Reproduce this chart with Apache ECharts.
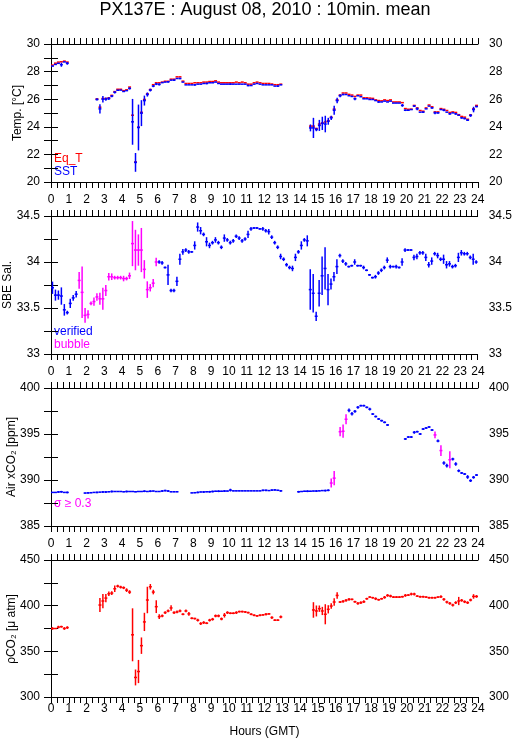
<!DOCTYPE html>
<html lang="en">
<head>
<meta charset="UTF-8">
<title>PX137E 10min mean</title>
<script src="https://cdn.jsdelivr.net/npm/echarts@6/dist/echarts.min.js"></script>
<style>
  html, body { margin: 0; padding: 0; background: #fff; }
  #chart { width: 515px; height: 739px; }
</style>
</head>
<body>
<div id="chart"></div>
<script>
// 10-minute slots, 6 per hour, one row per hour (0..23)
var slotHours = 1 / 6;

var eqT = [
  28.47, 28.61, 28.69, 28.71, 28.76, 28.69,
  null, null, null, null, null, null,
  null, null, null, 26.02, 25.42, 26.05,
  26.05, 26.10, 26.28, 26.55, 26.72, 26.72,
  26.62, 26.68, 26.88, 24.84, 21.45, 23.97,
  25.05, 25.98, 26.39, 26.70, 27.05, 27.19,
  27.19, 27.24, 27.30, 27.30, 27.45, 27.45,
  27.62, 27.62, 27.31, 27.14, 27.14, 27.14,
  27.19, 27.19, 27.19, 27.24, 27.24, 27.28,
  27.28, 27.33, 27.24, 27.19, 27.19, 27.19,
  27.19, 27.19, 27.24, 27.19, 27.24, 27.19,
  27.09, 27.09, 27.19, 27.24, 27.19, 27.14,
  27.14, 27.14, 27.10, 27.05, 27.05, 27.09,
  null, null, null, null, null, null,
  null, null, null, 24.05, 24.05, 23.88,
  24.20, 24.28, 24.35, 24.45, 24.70, 25.28,
  25.95, 26.30, 26.45, 26.45, 26.35, 26.30,
  26.20, 26.30, 26.30, 26.10, 26.10, 26.08,
  26.06, 25.95, 25.90, 25.88, 25.95, 25.90,
  25.95, 25.80, 25.80, 25.80, 25.75, 25.32,
  25.27, 25.28, 25.55, 25.37, 25.18, 25.13,
  25.37, 25.58, 25.45, 25.08, 25.08, 25.32,
  25.27, 25.18, 25.04, 25.08, 25.04, 24.88,
  24.75, 24.70, 24.55, 24.86, 25.30, 25.55
];

var sst = [
  28.40, 28.52, 28.60, 28.50, 28.70, 28.60,
  null, null, null, null, null, null,
  null, null, null, 25.98, 25.30, 26.00,
  26.00, 26.05, 26.22, 26.50, 26.65, 26.66,
  26.56, 26.62, 26.78, 24.36, 21.42, 23.95,
  24.99, 25.90, 26.34, 26.66, 26.95, 27.10,
  27.07, 27.20, 27.24, 27.26, 27.38, 27.38,
  27.50, 27.50, 27.24, 27.04, 27.04, 27.04,
  27.04, 27.09, 27.09, 27.14, 27.14, 27.19,
  27.19, 27.24, 27.14, 27.09, 27.09, 27.09,
  27.09, 27.09, 27.09, 27.09, 27.09, 27.09,
  26.99, 26.99, 27.09, 27.14, 27.09, 27.04,
  27.04, 27.04, 27.04, 26.95, 26.95, 27.04,
  null, null, null, null, null, null,
  null, null, null, 23.92, 23.92, 23.80,
  24.10, 24.25, 24.20, 24.40, 24.65, 25.20,
  25.90, 26.25, 26.34, 26.34, 26.25, 26.20,
  26.03, 26.25, 26.18, 26.03, 26.03, 25.98,
  25.98, 25.90, 25.80, 25.80, 25.86, 25.80,
  25.86, 25.72, 25.72, 25.72, 25.55, 25.20,
  25.20, 25.25, 25.50, 25.30, 25.06, 25.06,
  25.30, 25.50, 25.37, 25.01, 25.01, 25.25,
  25.20, 25.06, 24.94, 25.01, 24.94, 24.84,
  24.65, 24.60, 24.48, 24.82, 25.25, 25.47
];

var sstSd = [
  0, 0, 0, 0.15, 0, 0.1,
  0, 0, 0, 0, 0, 0,
  0, 0, 0, 0.08, 0.34, 0.24,
  0.12, 0.1, 0.08, 0.08, 0, 0,
  0, 0, 0.08, 1.66, 0.68, 1.66,
  0.94, 0.36, 0.15, 0.1, 0.08, 0.08,
  0.08, 0, 0, 0.06, 0, 0.06,
  0, 0.06, 0, 0, 0, 0,
  0.06, 0, 0, 0, 0.06, 0,
  0, 0, 0, 0, 0, 0,
  0.06, 0, 0, 0, 0, 0,
  0.06, 0, 0, 0, 0, 0,
  0, 0, 0, 0, 0.06, 0,
  0, 0, 0, 0, 0, 0,
  0, 0, 0, 0.25, 0.73, 0.12,
  0.4, 0.48, 0.6, 0.25, 0.15, 0.33,
  0.2, 0.1, 0.06, 0, 0, 0,
  0.1, 0, 0, 0, 0, 0,
  0, 0, 0.06, 0, 0, 0,
  0, 0, 0, 0, 0.1, 0.06,
  0, 0, 0.06, 0.1, 0, 0.06,
  0, 0, 0.06, 0.1, 0.06, 0,
  0.08, 0, 0.06, 0, 0.06, 0,
  0.06, 0.06, 0.06, 0.1, 0.2, 0.06
];

var sal = [
  33.72, 33.64, 33.64, 33.63, 33.48, 33.45,
  33.55, 33.61, 33.65, 33.80, 33.67, 33.42,
  33.43, 33.55, 33.57, 33.62, 33.60, 33.60,
  33.69, 33.84, 33.84, 33.83, 33.83, 33.83,
  33.82, 33.82, 33.85, 34.20, 34.13, 34.13,
  34.13, 33.92, 33.70, 33.72, 33.77, 34.00,
  34.00, 33.99, 33.94, 33.86, 33.69, 33.69,
  33.79, 34.03, 34.11, 34.13, 34.11, 34.11,
  34.18, 34.38, 34.34, 34.30, 34.22, 34.18,
  34.21, 34.24, 34.21, 34.16, 34.26, 34.24,
  34.21, 34.23, 34.28, 34.26, 34.23, 34.25,
  34.30, 34.36, 34.37, 34.37, 34.36, 34.36,
  34.34, 34.33, 34.27, 34.21, 34.16, 34.06,
  34.03, 33.97, 33.94, 33.93, 34.05, 34.11,
  34.18, 34.24, 34.23, 33.70, 33.66, 33.41,
  33.66, 33.85, 33.93, 33.70, 33.76, 33.84,
  33.95, 34.07, 34.01, 33.98, 33.95, 33.96,
  34.00, 33.96, 33.96, 33.94, 33.91, 33.86,
  33.83, 33.84, 33.88, 33.91, 33.94, 34.02,
  33.95, 33.95, 33.95, 33.94, 34.00, 34.13,
  34.13, 34.13, 34.05, 34.06, 34.10, 34.10,
  34.05, 33.97, 34.01, 34.09, 34.07, 34.03,
  34.03, 33.97, 33.98, 33.95, 33.96, 34.05,
  34.10, 34.09, 34.09, 34.05, 34.03, 34.00
];

var salSd = [
  0.067, 0.06, 0.05, 0.094, 0.063, 0.02,
  0.05, 0.03, 0.036, 0.09, 0.28, 0.08,
  0.045, 0.02, 0.045, 0.04, 0.065, 0.12,
  0.06, 0.04, 0.036, 0.02, 0.02, 0.02,
  0.03, 0.02, 0.035, 0.245, 0.22, 0.17,
  0.24, 0.1, 0.09, 0.04, 0.045, 0.045,
  0.02, 0.02, 0.01, 0.11, 0.02, 0.02,
  0.05, 0.06, 0.03, 0.02, 0.02, 0.01,
  0.045, 0.05, 0.04, 0.02, 0.05, 0.03,
  0.02, 0.03, 0.02, 0.02, 0.04, 0.02,
  0.02, 0.02, 0.02, 0.02, 0.02, 0.02,
  0.04, 0.02, 0.01, 0.01, 0.01, 0.02,
  0.02, 0.03, 0.02, 0.02, 0.02, 0.03,
  0.02, 0.02, 0.02, 0.03, 0.04, 0.02,
  0.045, 0.02, 0.06, 0.22, 0.21, 0.05,
  0.145, 0.21, 0.23, 0.17, 0.06, 0.05,
  0.08, 0.02, 0.02, 0.02, 0.01, 0.01,
  0.03, 0.01, 0.01, 0.02, 0.01, 0.01,
  0.01, 0.02, 0.02, 0.02, 0.02, 0.03,
  0.02, 0.01, 0.02, 0.01, 0.04, 0.02,
  0.01, 0.01, 0.03, 0.03, 0.02, 0.02,
  0.04, 0.03, 0.04, 0.02, 0.03, 0.02,
  0.05, 0.04, 0.03, 0.02, 0.02, 0.05,
  0.03, 0.02, 0.02, 0.02, 0.06, 0.02
];

// v = verified, b = bubble
var salFlag = [
  'vvvvvv', 'vvvbbb', 'bbbbbb', 'bbbbbb', 'bbbbbb', 'bbbbbb',
  'vvvvvv', 'vvvvvv', 'vvvvvv', 'vvvvvv', 'vvvvvv', 'vvvvvv',
  'vvvvvv', 'vvvvvv', 'vvvvvv', 'vvvvvv', 'vvvvvv', 'vvvvvv',
  'vvvvvv', 'vvvvvv', 'vvvvvv', 'vvvvvv', 'vvvvvv', 'vvvvvv'
].join('');

var xco2 = [
  388.65, 388.65, 388.70, 388.72, 388.65, 388.65,
  null, null, null, null, null, 388.58,
  388.60, 388.62, 388.65, 388.65, 388.68, 388.70,
  388.70, 388.72, 388.75, 388.75, 388.75, 388.75,
  388.72, 388.75, 388.75, 388.75, 388.72, 388.75,
  388.75, 388.78, 388.75, 388.78, 388.80, 388.75,
  388.75, 388.80, 388.85, 388.80, 388.72, 388.72,
  388.72, null, null, null, null, 388.60,
  388.62, 388.65, 388.70, 388.70, 388.72, 388.72,
  388.75, 388.78, 388.78, 388.78, 388.80, 388.80,
  388.90, 388.82, 388.82, 388.82, 388.82, 388.82,
  388.82, 388.82, 388.82, 388.82, 388.82, 388.88,
  388.88, 388.85, 388.90, 388.92, 388.88, 388.82,
  null, null, null, null, null, 388.72,
  388.75, 388.78, 388.78, 388.78, 388.80, 388.80,
  388.82, 388.85, 388.85, 388.88, 389.67, 390.20,
  null, 395.25, 395.30, 396.60, 397.57, 397.20,
  397.46, 397.90, 398.08, 398.08, 397.90, 397.70,
  397.17, 396.90, 396.63, 396.45, 396.27, 395.98,
  null, null, null, null, null, 394.46,
  394.67, 394.67, 395.18, 395.25, 395.00, 395.54,
  395.65, 395.76, 395.43, 394.90, 394.24, 393.20,
  391.85, 391.56, 392.20, 392.28, 391.74, 391.00,
  390.76, 390.65, 390.33, 389.93, 390.29, 390.54
];

var xco2Sd = [
  0.05, 0.05, 0.1, 0.1, 0.05, 0.1,
  0, 0, 0, 0, 0, 0.05,
  0.1, 0.05, 0.05, 0.1, 0.05, 0.1,
  0.1, 0.05, 0.1, 0.05, 0.05, 0.05,
  0.05, 0.1, 0.05, 0.05, 0.05, 0.05,
  0.05, 0.1, 0.05, 0.1, 0.05, 0.05,
  0.05, 0.1, 0.1, 0.1, 0.05, 0.05,
  0.05, 0, 0, 0, 0, 0.05,
  0.05, 0.1, 0.05, 0.1, 0.05, 0.1,
  0.1, 0.05, 0.1, 0.05, 0.1, 0.05,
  0.15, 0.05, 0.05, 0.05, 0.05, 0.05,
  0.05, 0.05, 0.05, 0.05, 0.05, 0.1,
  0.1, 0.05, 0.1, 0.1, 0.05, 0.1,
  0, 0, 0, 0, 0, 0.1,
  0.05, 0.05, 0.1, 0.05, 0.05, 0.1,
  0.05, 0.05, 0.1, 0.1, 0.49, 0.78,
  0, 0.5, 0.72, 0.54, 0.2, 0.2,
  0.15, 0.15, 0.1, 0.1, 0.1, 0.15,
  0.1, 0.1, 0.1, 0.1, 0.1, 0.1,
  0, 0, 0, 0, 0, 0.1,
  0.1, 0.1, 0.15, 0.1, 0.1, 0.1,
  0.1, 0.1, 0.1, 0.36, 0.15, 0.58,
  0.2, 0.2, 0.92, 0.15, 0.2, 0.15,
  0.1, 0.1, 0.2, 0.15, 0.15, 0.1
];

// v = verified, s = sigma >= 0.3
var xco2Flag = [
  'vvvvvv', 'vvvvvv', 'vvvvvv', 'vvvvvv', 'vvvvvv', 'vvvvvv',
  'vvvvvv', 'vvvvvv', 'vvvvvv', 'vvvvvv', 'vvvvvv', 'vvvvvv',
  'vvvvvv', 'vvvvvv', 'vvvvvv', 'vvvvss', 'vsssvv', 'vvvvvv',
  'vvvvvv', 'vvvvvv', 'vvvvvv', 'vvvsvs', 'vvsvvv', 'vvvvvv'
].join('');

var pco2 = [
  375.0, 375.0, 376.5, 377.0, 375.0, 376.0,
  null, null, null, null, null, null,
  null, null, null, null, 400.7, 405.1,
  408.3, 413.0, 413.8, 418.5, 421.4, 420.3,
  419.6, 417.0, 414.9, 368.1, 321.4, 327.9,
  356.2, 382.2, 406.2, 420.7, 414.9, 398.9,
  388.0, 388.8, 392.4, 394.2, 397.5, 392.4,
  393.1, 394.2, 390.6, 394.2, 391.0, 386.2,
  385.9, 384.1, 380.4, 381.5, 380.8, 384.1,
  385.1, 388.8, 388.8, 385.5, 389.5, 392.4,
  391.7, 391.7, 392.4, 393.5, 393.5, 393.1,
  392.4, 390.6, 389.5, 388.8, 389.5, 389.9,
  390.6, 391.0, 387.0, 384.1, 384.1, 387.7,
  null, null, null, null, null, null,
  null, null, null, null, 395.3, 394.2,
  396.7, 394.2, 390.6, 396.0, 399.6, 404.0,
  411.2, 404.0, 404.7, 405.8, 406.9, 406.9,
  404.3, 402.5, 403.3, 404.3, 407.6, 409.4,
  408.7, 407.6, 406.5, 407.6, 409.1, 411.2,
  410.5, 409.4, 409.4, 409.4, 409.8, 411.2,
  411.6, 412.7, 412.7, 410.5, 409.8, 409.8,
  409.4, 408.7, 408.7, 408.7, 409.4, 409.8,
  406.9, 404.0, 402.5, 400.7, 403.3, 405.1,
  405.8, 404.3, 403.3, 406.2, 410.1, 410.1
];

var pco2Sd = [
  1.5, 0, 1.5, 1, 1.5, 1.5,
  0, 0, 0, 0, 0, 0,
  0, 0, 0, 0, 7.6, 7.8,
  4.5, 2.5, 2, 3.5, 1.5, 1.5,
  1.5, 2, 2, 29, 8.7, 12.7,
  9, 10, 14.5, 3, 2.5, 7,
  2.5, 1.5, 1.5, 1.5, 3, 1.5,
  1.5, 1.5, 1, 1.5, 2, 1,
  1, 1.5, 1.5, 1.5, 1, 1.5,
  1.5, 1.5, 1.5, 1.5, 2.5, 1.5,
  1, 1, 1.5, 1, 1, 1,
  1, 1, 1, 1, 1, 1,
  1.5, 1, 1.5, 1, 1, 1.5,
  0, 0, 0, 0, 0, 0,
  0, 0, 0, 0, 8.5, 6,
  3.5, 4.5, 11, 4.5, 3, 4,
  3.5, 1, 1.5, 1.5, 1.5, 1,
  1, 1.5, 1.5, 1.5, 1, 1,
  1, 1.5, 1, 1, 1.5, 1.5,
  1.5, 1, 1, 1, 1, 1.5,
  1, 1.5, 1.5, 1, 1, 1,
  1, 1, 1, 1, 1, 1.5,
  1.5, 1.5, 1.5, 1.5, 1.5, 4.5,
  1.5, 1.5, 1.5, 1.5, 2.5, 1.5
];

// [min, max, labelled step, tick step]
var hourAxis = [0, 24, 1, 1 / 3];
var yRanges = [[20, 30, 2, 1], [33, 34.5, 0.5, 0.25], [385, 400, 5, 2.5], [300, 450, 50, 25]];
var yNames = ['Temp. [°C]', 'SBE Sal.', 'Air xCO₂ [ppm]', 'ρCO₂ [μ atm]'];

var RED = '#ff0000', BLUE = '#0000ff', MAGENTA = '#ff00ff';
var FONT = '"Liberation Sans", Arial, Helvetica, sans-serif';

var mCharts = echarts.init(document.getElementById('chart'), null, { renderer: 'canvas' });

var panelTop = [44, 216, 388, 560];
var panelH = 138;
var nameX = [18, 7.5, 11.5, 11.5];

function onStep(v, step) {
  var k = v / step;
  return Math.abs(k - Math.round(k)) < 1e-6;
}

var grids = [], xAxes = [], yAxes = [], series = [];

panelTop.forEach(function (top, g) {
  grids.push({ left: 51, top: top, width: 427, height: panelH });
  var axLine = { show: true, lineStyle: { color: '#000', width: 1 } };
  // labels sit above panels 2-4 and below the last one
  [['bottom', g === 3, 6], ['top', g > 0, 10]].forEach(function (p) {
    xAxes.push({
      gridIndex: g, type: 'value', position: p[0],
      min: hourAxis[0], max: hourAxis[1], interval: hourAxis[3],
      axisLine: axLine,
      axisTick: { show: true, length: 6, lineStyle: { color: '#000' } },
      splitLine: { show: false },
      axisLabel: {
        show: p[1], margin: p[2], color: '#000', fontSize: 12, fontFamily: FONT,
        formatter: function (v) { return onStep(v, hourAxis[2]) ? String(Math.round(v)) : ''; }
      },
      name: (g === 3 && p[0] === 'bottom') ? 'Hours (GMT)' : '',
      nameLocation: 'middle', nameGap: 29,
      nameTextStyle: { color: '#000', fontSize: 12, fontFamily: FONT }
    });
  });
  var r = yRanges[g];
  ['left', 'right'].forEach(function (side) {
    yAxes.push({
      gridIndex: g, type: 'value', position: side,
      min: r[0], max: r[1], interval: r[3],
      axisLine: axLine,
      axisTick: { show: true, length: 7, lineStyle: { color: '#000' } },
      splitLine: { show: false },
      axisLabel: {
        show: true, margin: 11, color: '#000', fontSize: 12, fontFamily: FONT,
        formatter: function (v) { return onStep(v - r[0], r[2]) ? String(+v.toFixed(2)) : ''; }
      }
    });
  });
});

// a 10-minute horizontal bar plus a vertical +/- sd bar for each point
function crossSeries(g, vals, sds, flags, key, color) {
  var data = [];
  vals.forEach(function (v, i) {
    if (v === null) return;
    if (flags && flags.charAt(i) !== key) return;
    data.push([(i + 0.5) * slotHours, v, sds ? sds[i] : 0]);
  });
  return {
    type: 'custom', xAxisIndex: 2 * g, yAxisIndex: 2 * g, clip: true, silent: true,
    data: data,
    renderItem: function (params, api) {
      var t = api.value(0), v = api.value(1), s = api.value(2);
      var a = api.coord([t - slotHours / 2, v]);
      var b = api.coord([t + slotHours / 2, v]);
      var lo = api.coord([t, v - s]);
      var hi = api.coord([t, v + s]);
      var st = { stroke: color, lineWidth: 1.5, fill: null };
      var kids = [{ type: 'line', shape: { x1: a[0], y1: a[1], x2: b[0], y2: b[1] }, style: st }];
      if (s > 0) kids.push({ type: 'line', shape: { x1: lo[0], y1: lo[1], x2: hi[0], y2: hi[1] }, style: st });
      return { type: 'group', children: kids };
    }
  };
}

series.push(crossSeries(0, eqT, null, null, null, RED));
series.push(crossSeries(0, sst, sstSd, null, null, BLUE));
series.push(crossSeries(1, sal, salSd, salFlag, 'v', BLUE));
series.push(crossSeries(1, sal, salSd, salFlag, 'b', MAGENTA));
series.push(crossSeries(2, xco2, xco2Sd, xco2Flag, 'v', BLUE));
series.push(crossSeries(2, xco2, xco2Sd, xco2Flag, 's', MAGENTA));
series.push(crossSeries(3, pco2, pco2Sd, null, null, RED));

function txt(text, x, y, color) {
  return {
    type: 'text', x: x, y: y,
    style: { text: text, fill: color, font: '12px ' + FONT, textVerticalAlign: 'middle' }
  };
}

var graphics = [
  { type: 'text', x: 265, y: 10,
    style: { text: 'PX137E : August 08, 2010 : 10min. mean', fill: '#000',
             font: '18px ' + FONT, textAlign: 'center', textVerticalAlign: 'middle' } },
  txt('Eq_T', 54, 159, RED),
  txt('SST', 54, 172, BLUE),
  txt('verified', 54, 332, BLUE),
  txt('bubble', 54, 345, MAGENTA),
  txt('σ ≥ 0.3', 54, 504, MAGENTA)
];
yNames.forEach(function (n, g) {
  graphics.push({
    type: 'text', x: nameX[g], y: panelTop[g] + panelH / 2, rotation: Math.PI / 2,
    style: { text: n, fill: '#000', font: '12px ' + FONT, textAlign: 'center', textVerticalAlign: 'middle' }
  });
});

var option = {
  backgroundColor: '#fff',
  animation: false,
  grid: grids,
  xAxis: xAxes,
  yAxis: yAxes,
  series: series,
  graphic: graphics
};

mCharts.setOption(option);
</script>
</body>
</html>
